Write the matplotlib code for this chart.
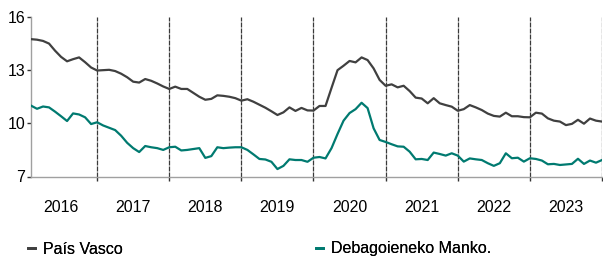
import matplotlib.pyplot as plt
from matplotlib.lines import Line2D

# datos mensuales 2016-2023 (tasa de paro, %)
anios = ["2016", "2017", "2018", "2019", "2020", "2021", "2022", "2023"]

pais_vasco = [
    14.75, 14.72, 14.65, 14.5, 14.1, 13.75, 13.5, 13.62, 13.72, 13.45, 13.15, 12.98,
    13.0, 13.02, 12.95, 12.8, 12.6, 12.35, 12.3, 12.5, 12.4, 12.25, 12.08, 11.94,
    12.07, 11.94, 11.94, 11.72, 11.5, 11.33, 11.38, 11.58, 11.55, 11.5, 11.42, 11.28,
    11.36, 11.22, 11.05, 10.88, 10.68, 10.47, 10.62, 10.9, 10.7, 10.87, 10.73, 10.72,
    10.98, 10.98, 12.0, 13.0, 13.25, 13.52, 13.44, 13.72, 13.57, 13.1, 12.45, 12.12,
    12.2, 12.03, 12.12, 11.82, 11.45, 11.4, 11.13, 11.42, 11.13, 11.03, 10.94, 10.71,
    10.8, 11.03, 10.9, 10.75, 10.55, 10.42, 10.38, 10.6, 10.4, 10.4, 10.35, 10.34,
    10.6, 10.55, 10.28, 10.15, 10.1, 9.9, 9.97, 10.2, 9.98, 10.27, 10.15, 10.1,
]

debagoiene = [
    11.0, 10.82, 10.95, 10.9, 10.66, 10.4, 10.13, 10.56, 10.5, 10.34, 9.96, 10.06,
    9.88, 9.75, 9.62, 9.3, 8.9, 8.6, 8.38, 8.72, 8.65, 8.6, 8.5, 8.65,
    8.68, 8.47, 8.5, 8.55, 8.6, 8.05, 8.15, 8.65, 8.6, 8.63, 8.65, 8.65,
    8.5, 8.25, 7.99, 7.96, 7.83, 7.42, 7.6, 7.97, 7.93, 7.93, 7.83, 8.06,
    8.1, 8.02, 8.6, 9.4, 10.15, 10.58, 10.8, 11.16, 10.86, 9.72, 9.06, 8.95,
    8.82, 8.7, 8.68, 8.4, 7.97, 7.99, 7.93, 8.35, 8.27, 8.18, 8.31, 8.18,
    7.84, 8.02, 7.97, 7.93, 7.75, 7.6, 7.75, 8.31, 8.03, 8.06, 7.84, 8.03,
    7.99, 7.9, 7.69, 7.71, 7.65, 7.68, 7.71, 8.0, 7.71, 7.9, 7.78, 7.93,
]

nombres = ["País Vasco", "Debagoieneko Manko."]
colores = ["#404040", "#007a70"]

plt.rcParams['font.family'] = ['Liberation Sans', 'DejaVu Sans']

fig = plt.figure(figsize=(6.03, 2.57), dpi=100)
ax = fig.add_axes([31 / 603, 1 - 176.5 / 257, 571 / 603, 159.5 / 257])

meses = list(range(len(pais_vasco)))
ax.plot(meses, pais_vasco, color=colores[0], lw=1.6, zorder=3)
ax.plot(meses, debagoiene, color=colores[1], lw=1.6, zorder=3)

# separadores de año (diciembre de cada año)
cortes = [12 * i + 11 for i in range(len(anios))]
for c in cortes:
    ax.axvline(c, color="#3a3a3a", lw=0.9, ls=(0, (4, 0.8)), zorder=2)

ax.set_xlim(0, 95)
ax.set_ylim(7, 16)
ax.set_yticks([7, 10, 13, 16])

ax.set_xticks(cortes)
ax.set_xticklabels([])
ax.set_xticks([12 * i + 5 for i in range(len(anios))], minor=True)
ax.set_xticklabels(anios, minor=True)
ax.tick_params(axis="x", which="major", direction="out", length=3, width=1, color="#333333")
ax.tick_params(axis="x", which="minor", length=0, pad=17, labelsize=11.5)
ax.tick_params(axis="y", direction="out", length=3, width=1, color="#333333", labelsize=11.5, pad=1)

for s in ["top", "right"]:
    ax.spines[s].set_visible(False)
for s in ["left", "bottom"]:
    ax.spines[s].set_color("#a0a0a0")
    ax.spines[s].set_linewidth(1)

# leyenda: dos entradas colocadas a mano
posiciones = [28 / 603, 316 / 603]
for nombre, color, x0 in zip(nombres, colores, posiciones):
    h = Line2D([], [], color=color, lw=2)
    leg = fig.legend([h], [nombre], loc="center left",
                     bbox_to_anchor=(x0, 1 - 249 / 257), frameon=False,
                     handlelength=0.45, handletextpad=0.5, fontsize=11.5,
                     borderaxespad=0, borderpad=0)
    fig.add_artist(leg)

fig.savefig("out.png", dpi=100)
